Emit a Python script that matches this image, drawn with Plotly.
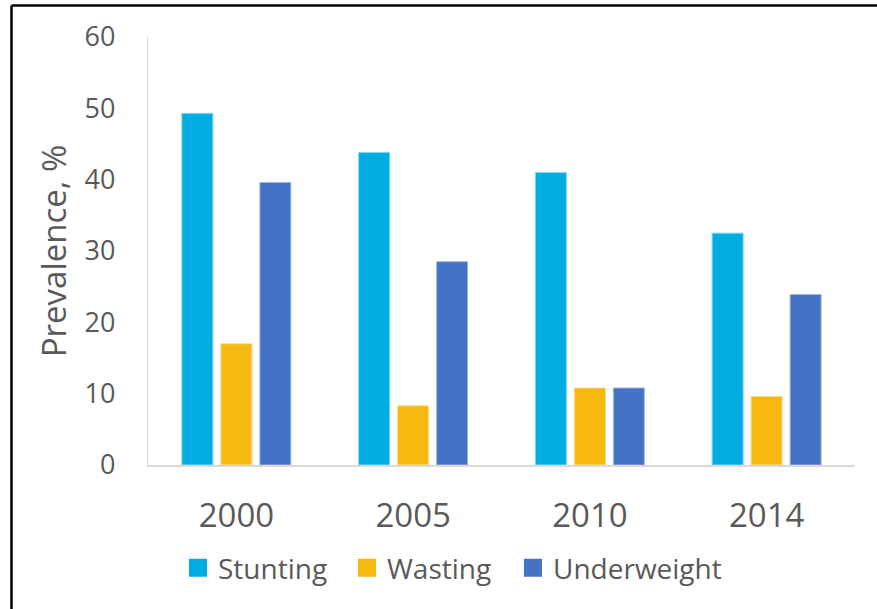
import plotly.graph_objects as go

years = ["2000", "2005", "2010", "2014"]
stunting = [49.3, 43.8, 41.0, 32.5]
wasting = [17.0, 8.3, 10.8, 9.6]
underweight = [39.6, 28.5, 10.8, 23.9]
series_names = ["Stunting", "Wasting", "Underweight"]
colors = ["#00ADE3", "#F5B911", "#4472C4"]
edge_colors = ["#7FD6F1", "#FADC88", "#A1B8E1"]

W, H = 877, 609
L, R, T, B = 148, 22, 37, 144
pw = W - L - R
ph = H - T - B

def px_x(p):
    return (p - L) / pw

def px_y(p):
    return (H - B - p) / ph

legend_ids = ["legend", "legend2", "legend3"]
legend_left_px = [178, 347, 513]

fig = go.Figure()
for name, vals, c, ec in zip(series_names, [stunting, wasting, underweight], colors, edge_colors):
    fig.add_trace(go.Bar(x=years, y=vals, name=name, marker=dict(color=c, line=dict(color=ec, width=1)),
                         showlegend=False))
for name, c, lid in zip(series_names, colors, legend_ids):
    fig.add_trace(go.Scatter(x=[None], y=[None], mode="markers", name=name, legend=lid,
                             marker=dict(symbol="square", size=16, color=c, line=dict(color=c, width=2))))

font_family = "Open Sans, Noto Sans, sans-serif"

legend_common = dict(orientation="h", xanchor="left", y=px_y(568), yanchor="middle",
                     font=dict(size=28, color="#595959"), itemclick=False, itemdoubleclick=False,
                     bgcolor="rgba(0,0,0,0)")

fig.update_layout(
    width=W, height=H,
    margin=dict(l=L, r=R, t=T, b=B, autoexpand=False),
    paper_bgcolor="white", plot_bgcolor="white",
    barmode="group", bargap=0.338, bargroupgap=0.205,
    font=dict(family=font_family, color="#595959"),
    xaxis=dict(showgrid=False, showline=True, linecolor="#D9D9D9", linewidth=1.5,
               tickfont=dict(size=33, color="#595959"), ticks="", ticklabelstandoff=21,
               fixedrange=True),
    yaxis=dict(range=[0, 60], dtick=10, showgrid=False, showline=True, linecolor="#D9D9D9",
               linewidth=1.2, zeroline=False, ticks="", fixedrange=True,
               tickfont=dict(size=27, color="#595959"), ticklabelstandoff=26,
               title=dict(text="Prevalence, %", font=dict(size=33, color="#595959"), standoff=8)),
    legend=dict(x=px_x(legend_left_px[0]), **legend_common),
    legend2=dict(x=px_x(legend_left_px[1]), **legend_common),
    legend3=dict(x=px_x(legend_left_px[2]), **legend_common),
    showlegend=True,
)

# outer frame (black border, top and left visible)
fig.add_shape(type="line", xref="paper", yref="paper",
              x0=px_x(11.5), x1=px_x(W), y0=px_y(5.5), y1=px_y(5.5),
              line=dict(color="black", width=2.5))
fig.add_shape(type="line", xref="paper", yref="paper",
              x0=px_x(11.5), x1=px_x(11.5), y0=px_y(5.5), y1=px_y(H),
              line=dict(color="black", width=2.5))

fig.write_html("out.html", config={"displayModeBar": False},
               post_script="document.body.style.margin='0';document.body.style.overflow='hidden';")
